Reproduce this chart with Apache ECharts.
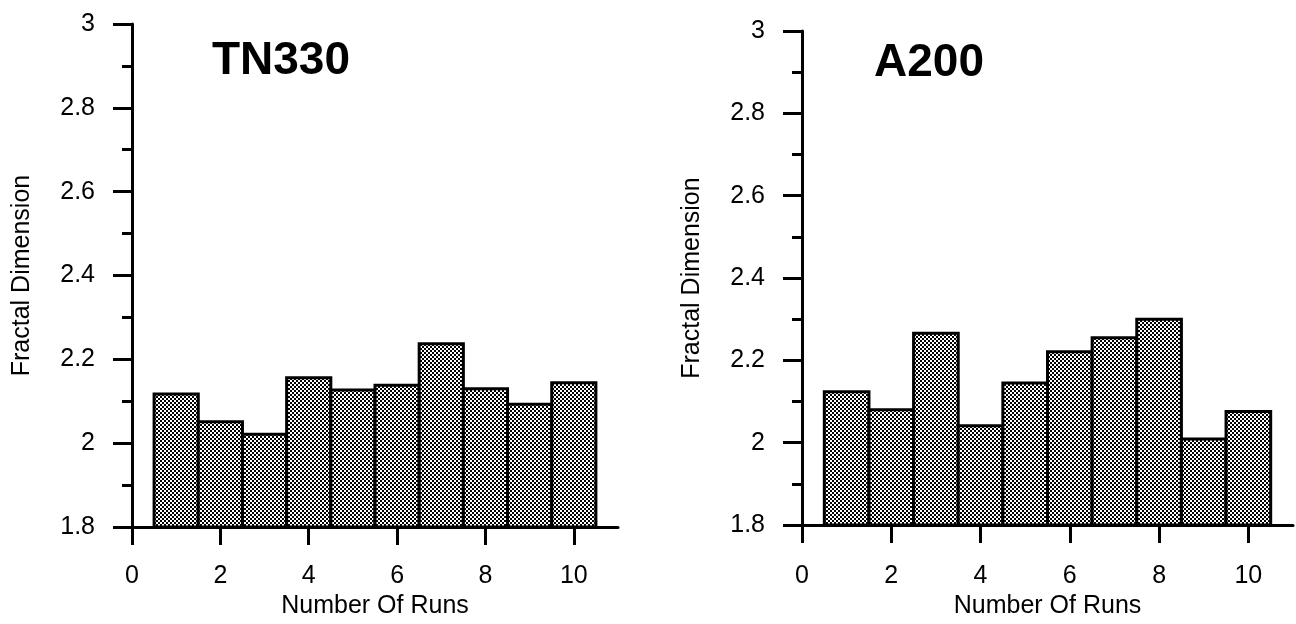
<!DOCTYPE html>
<html>
<head>
<meta charset="utf-8">
<script src="https://cdn.jsdelivr.net/npm/echarts@6/dist/echarts.min.js"></script>
<style>
html,body{margin:0;padding:0;background:#fff;}
#chart{width:1296px;height:624px;}
</style>
</head>
<body>
<div id="chart"></div>
<script>
// ---- data ----
const runs = [1, 2, 3, 4, 5, 6, 7, 8, 9, 10];
const tn330Values = [2.117, 2.051, 2.021, 2.156, 2.127, 2.138, 2.237, 2.130, 2.093, 2.144];
const a200Values = [2.124, 2.080, 2.266, 2.041, 2.145, 2.221, 2.255, 2.300, 2.009, 2.076];
const xTickValues = [0, 2, 4, 6, 8, 10];
const yRange = [1.8, 3];
const xRange = [0, 11];
const titles = ['TN330', 'A200'];
const xName = 'Number Of Runs';
const yName = 'Fractal Dimension';

// ---- checkerboard fill pattern ----
const pat = document.createElement('canvas');
pat.width = 4; pat.height = 4;
const pctx = pat.getContext('2d');
pctx.fillStyle = '#fff'; pctx.fillRect(0, 0, 4, 4);
pctx.fillStyle = '#000';
pctx.fillRect(0, 0, 2, 2);
pctx.fillRect(2, 2, 2, 2);
const fillPattern = { image: pat, repeat: 'repeat' };

const FONT = 'Liberation Sans, Arial, sans-serif';

function makeX(gi, margin) {
  return {
    gridIndex: gi, type: 'value', min: xRange[0], max: xRange[1], interval: 2,
    axisLine: { show: true, onZero: false, lineStyle: { color: '#000', width: 3 } },
    axisTick: { show: true, length: 18, customValues: xTickValues, lineStyle: { color: '#000', width: 3 } },
    axisLabel: { customValues: xTickValues, margin: margin, fontSize: 25, color: '#000', fontFamily: FONT },
    splitLine: { show: false },
    name: xName, nameLocation: 'middle', nameGap: 67,
    nameTextStyle: { fontSize: 25, color: '#000', fontFamily: FONT }
  };
}
function makeY(gi) {
  return {
    gridIndex: gi, type: 'value', min: yRange[0], max: yRange[1], interval: 0.2,
    axisLine: { show: true, lineStyle: { color: '#000', width: 3 } },
    axisTick: { show: true, length: 19, lineStyle: { color: '#000', width: 3 } },
    minorTick: { show: true, splitNumber: 2, length: 10, lineStyle: { color: '#000', width: 3 } },
    axisLabel: { margin: 37, fontSize: 25, color: '#000', fontFamily: FONT },
    splitLine: { show: false }, minorSplitLine: { show: false },
    name: yName, nameLocation: 'middle', nameGap: 97,
    nameTextStyle: { fontSize: 25, color: '#000', fontFamily: FONT }
  };
}
function renderBar(params, api) {
  const x = api.value(0), y = api.value(1);
  const p1 = api.coord([x - 0.5, y]);
  const p2 = api.coord([x + 0.5, yRange[0]]);
  return {
    type: 'rect',
    shape: { x: p1[0], y: p1[1], width: p2[0] - p1[0], height: p2[1] - p1[1] },
    style: { fill: fillPattern, stroke: '#000', lineWidth: 3 }
  };
}

const chart = echarts.init(document.getElementById('chart'), null, { renderer: 'canvas' });
chart.setOption({
  backgroundColor: '#fff',
  animation: false,
  title: [
    { text: titles[0], left: 281, top: 38, textAlign: 'center', padding: 0,
      textStyle: { fontSize: 46, fontWeight: 'bold', color: '#000', fontFamily: FONT } },
    { text: titles[1], left: 929, top: 40, textAlign: 'center', padding: 0,
      textStyle: { fontSize: 46, fontWeight: 'bold', color: '#000', fontFamily: FONT } }
  ],
  grid: [
    { left: 132, top: 24, width: 486, height: 504 },
    { left: 802, top: 31, width: 491, height: 500 }
  ],
  xAxis: [makeX(0, 37), makeX(1, 39)],
  yAxis: [makeY(0), makeY(1)],
  series: [
    { type: 'custom', xAxisIndex: 0, yAxisIndex: 0, renderItem: renderBar,
      data: runs.map((r, i) => [r, tn330Values[i]]) },
    { type: 'custom', xAxisIndex: 1, yAxisIndex: 1, renderItem: renderBar,
      data: runs.map((r, i) => [r, a200Values[i]]) }
  ]
});
</script>
</body>
</html>
